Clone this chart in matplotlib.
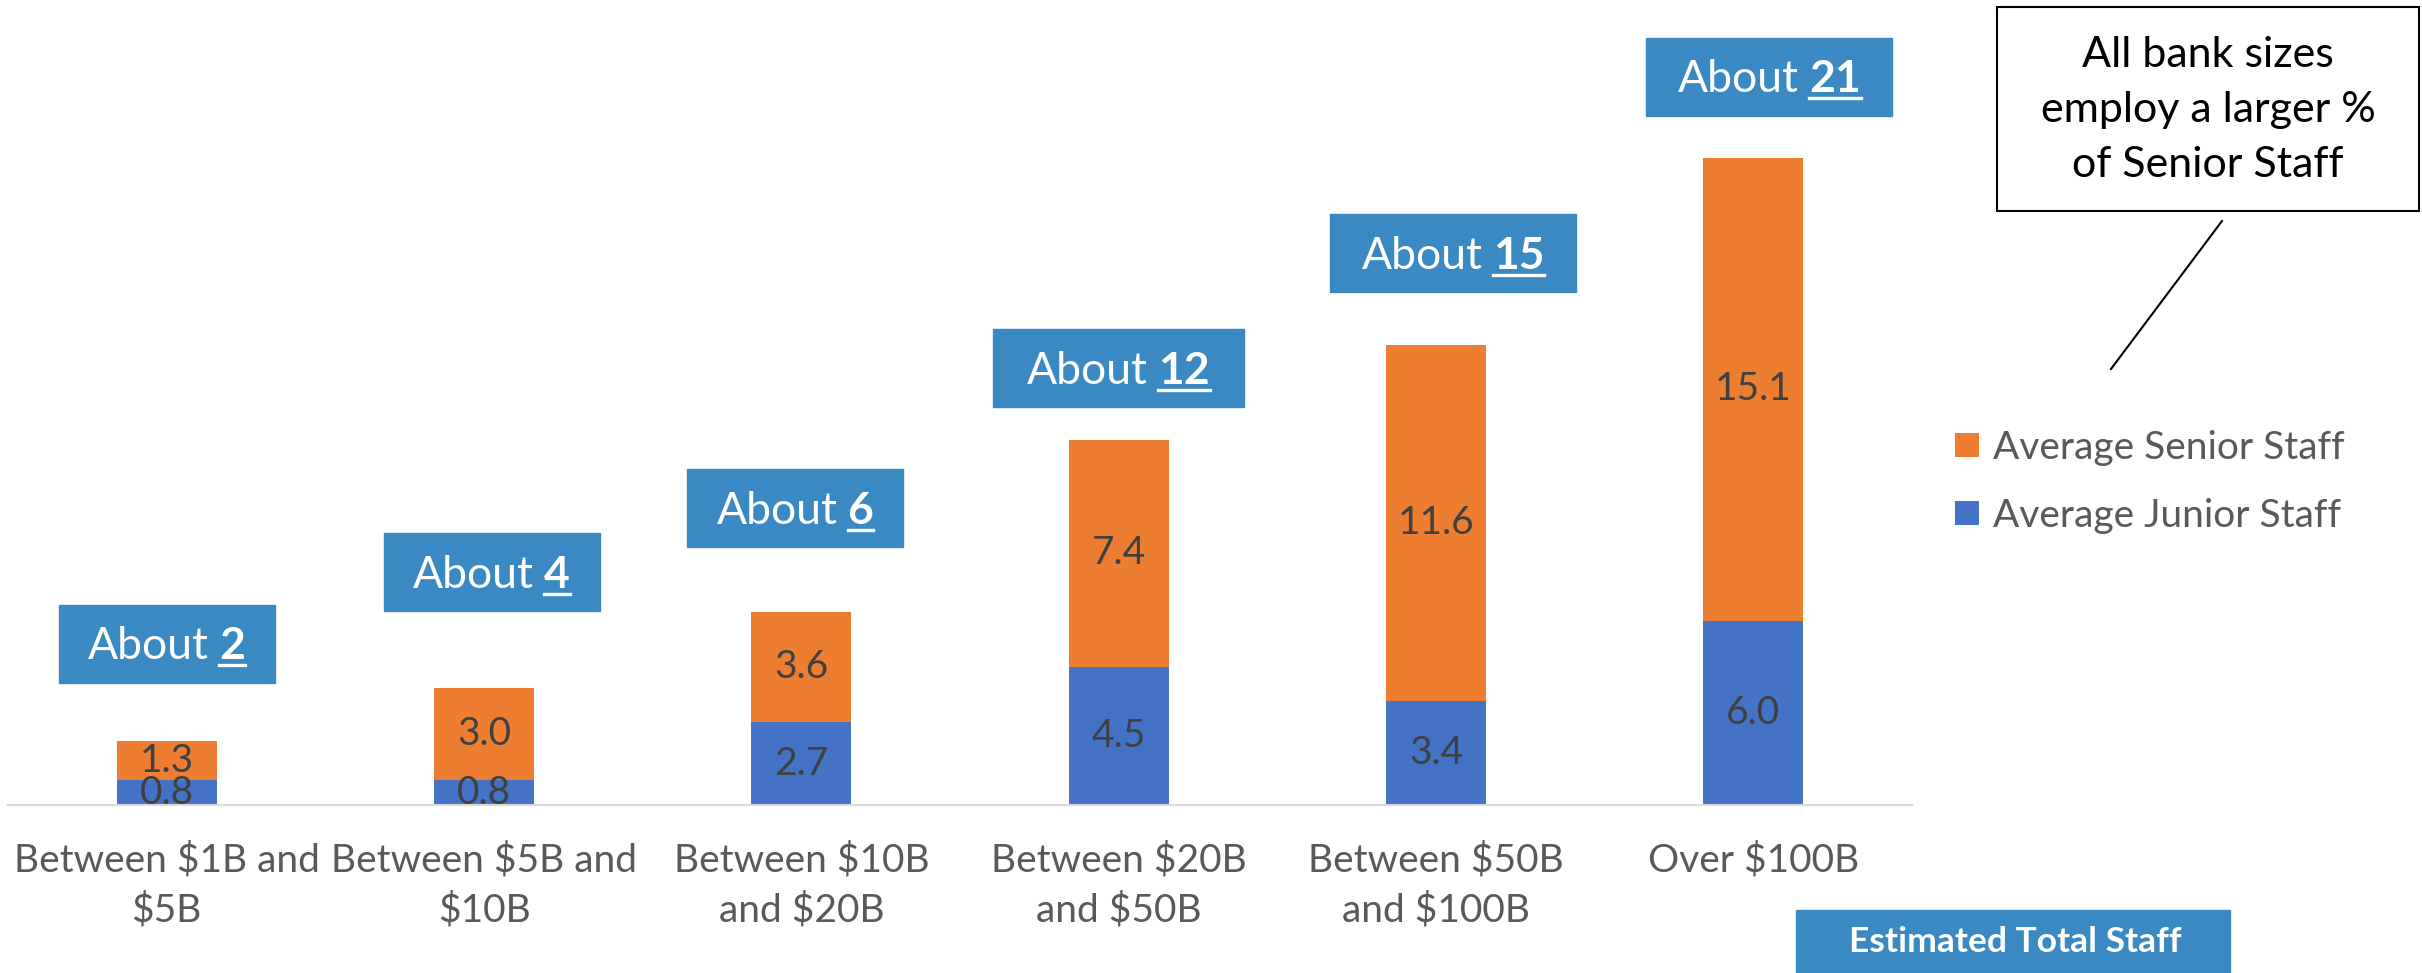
import numpy as np
import matplotlib.pyplot as plt
from matplotlib.patches import Rectangle
from matplotlib.lines import Line2D

plt.rcParams['font.family'] = ['Lato', 'DejaVu Sans']

# data
categories = ['Between \\$1B and\n\\$5B', 'Between \\$5B and\n\\$10B', 'Between \\$10B\nand \\$20B',
              'Between \\$20B\nand \\$50B', 'Between \\$50B\nand \\$100B', 'Over \\$100B']
junior = [0.8, 0.8, 2.7, 4.5, 3.4, 6.0]
senior = [1.3, 3.0, 3.6, 7.4, 11.6, 15.1]
about = ['2', '4', '6', '12', '15', '21']

# where the "About" tags sit (data y of box centre, x nudge in category units, box width)
tag_y = [5.25, 7.59, 9.68, 14.24, 17.99, 23.73]
tag_dx = [0.0, 0.024, -0.02, 0.0, 0.054, 0.05]
tag_w = [0.68, 0.68, 0.68, 0.79, 0.775, 0.775]
tag_h = 2.54

ORANGE = '#ED7D31'
BLUE = '#4472C4'
TAG = '#3A89C3'

W, H = 2422, 973
fig = plt.figure(figsize=(W / 100, H / 100), dpi=100)
ax = fig.add_axes([8 / W, 168 / H, 1904 / W, 805 / H])

x = np.arange(len(categories))
b1 = ax.bar(x, junior, width=0.315, color=BLUE, label='Average Junior Staff', zorder=2)
b2 = ax.bar(x, senior, width=0.315, bottom=junior, color=ORANGE, label='Average Senior Staff', zorder=2)
ax.bar_label(b1, fmt='%.1f', label_type='center', fontsize=28, color='#404040')
ax.bar_label(b2, fmt='%.1f', label_type='center', fontsize=28, color='#404040')

ax.set_xlim(-0.5, 5.5)
ax.set_ylim(0, 805 / 30.68)
ax.set_xticks(x, categories, fontsize=28, color='#595959', linespacing=1.45)
ax.tick_params(axis='x', length=0, pad=27)
ax.set_yticks([])
for s in ['top', 'right', 'left']:
    ax.spines[s].set_visible(False)
ax.spines['bottom'].set_color('#D9D9D9')
ax.spines['bottom'].set_linewidth(1.5)

# "About N" tags with the number bold and underlined
fig.canvas.draw()
r = fig.canvas.get_renderer()
to_fig = fig.transFigure.inverted()
cap = 31
for i in range(len(categories)):
    cx, cy = x[i] + tag_dx[i], tag_y[i]
    ax.add_patch(Rectangle((cx - tag_w[i] / 2, cy - tag_h / 2), tag_w[i], tag_h,
                           color=TAG, zorder=3, clip_on=False))
    px, py = ax.transData.transform((cx, cy))
    t1 = fig.text(0, 0, 'About', fontsize=32, color='white', zorder=4)
    t2 = fig.text(0, 0, about[i], fontsize=32, color='white', fontweight='bold', zorder=4)
    w1 = t1.get_window_extent(r).width
    w2 = t2.get_window_extent(r).width
    gap = 10
    left = px - (w1 + gap + w2) / 2
    base = py - cap / 2
    t1.set_position(to_fig.transform((left, base)))
    t2.set_position(to_fig.transform((left + w1 + gap, base)))
    a = to_fig.transform((left + w1 + gap, base - 6))
    b = to_fig.transform((left + w1 + gap + w2, base - 6))
    fig.add_artist(Line2D([a[0], b[0]], [a[1], b[1]], color='white', lw=2.4, zorder=4))

# legend, senior first
fig.legend([b2, b1], ['Average Senior Staff', 'Average Junior Staff'],
           loc='upper left', bbox_to_anchor=(1955 / W, 1 - 430 / H), frameon=False,
           fontsize=28, labelcolor='#595959', handlelength=0.62, handleheight=0.57,
           handletextpad=0.35, labelspacing=0.82, borderpad=0, borderaxespad=0)

# callout box with leader line
fig.add_artist(Rectangle((1997 / W, 1 - 211 / H), 422 / W, 204 / H, fill=False,
                         edgecolor='black', lw=1.5, transform=fig.transFigure))
fig.text(2208 / W, 1 - 110 / H, 'All bank sizes\nemploy a larger %\nof Senior Staff',
         ha='center', va='center', fontsize=31, color='black', linespacing=1.55)
fig.add_artist(Line2D([2222 / W, 2111 / W], [1 - 221 / H, 1 - 369 / H],
                      color='black', lw=1.5, transform=fig.transFigure))

# bottom-right banner
fig.add_artist(Rectangle((1796 / W, 0), 434 / W, 63 / H, color=TAG, transform=fig.transFigure))
fig.text(2015 / W, 1 - 942 / H, 'Estimated Total Staff', ha='center', va='center',
         fontsize=25.5, fontweight='bold', color='white')

fig.savefig('out.png', dpi=100)
